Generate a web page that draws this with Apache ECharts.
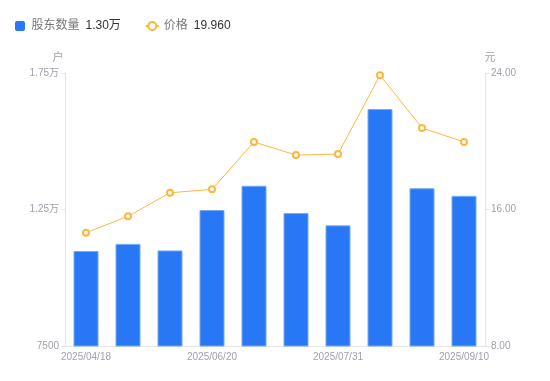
<!DOCTYPE html>
<html>
<head>
<meta charset="utf-8">
<script src="https://cdn.jsdelivr.net/npm/echarts@6/dist/echarts.min.js"></script>
<style>html,body{margin:0;padding:0;background:#fff}#c{width:550px;height:381px}</style>
</head>
<body>
<div id="c"></div>
<script>
const categories = ['2025/04/18','2025/04/30','2025/05/20','2025/06/20','2025/06/30','2025/07/10','2025/07/31','2025/08/10','2025/08/31','2025/09/10'];
const holders = [10980, 11240, 11000, 12480, 13370, 12370, 11920, 16180, 13280, 13000];
const prices = [14.64, 15.60, 16.98, 17.18, 19.96, 19.19, 19.25, 23.87, 20.78, 19.96];
const leftTicks = [7500, 12500, 17500];
const rightTicks = [8, 16, 24];

const fontFamily = '"Liberation Sans", Arial, "Noto Sans CJK SC", sans-serif';
function fmtWan(v){ return v >= 10000 ? (v/10000).toFixed(2) + '万' : String(v); }
const legendValues = {
  '股东数量': fmtWan(holders[holders.length-1]),
  '价格': prices[prices.length-1].toFixed(3)
};
const chart = echarts.init(document.getElementById('c'));
chart.setOption({
  animation: false,
  textStyle: { fontFamily },
  legend: {
    left: 10, top: 15, itemWidth: 13, itemHeight: 10, itemGap: 24,
    data: [
      { name: '股东数量', icon: 'path://M2,0h6a2,2 0 0 1 2,2v6a2,2 0 0 1 -2,2h-6a2,2 0 0 1 -2,-2v-6a2,2 0 0 1 2,-2z', itemStyle: { borderWidth: 0, color: '#2878f5' } },
      { name: '价格' }
    ],
    formatter: name => `{n|${name}}{v|${legendValues[name]}}`,
    textStyle: {
      rich: {
        n: { fontSize: 12, color: '#777', fontFamily },
        v: { fontSize: 12, color: '#333', fontFamily, padding: [0, 0, 0, 6] }
      }
    }
  },
  grid: { left: 65, right: 65, top: 73, bottom: 35 },
  xAxis: {
    type: 'category', data: categories,
    axisLine: { lineStyle: { color: '#e3e3e8' } },
    axisTick: { show: false },
    axisLabel: { interval: 2, color: '#a0a0ad', fontSize: 10, margin: 6 }
  },
  yAxis: [
    {
      type: 'value', name: '户', min: 7500, max: 17500,
      nameTextStyle: { color: '#a0a0ad', fontSize: 11, padding: [0, 14, 0, 0] },
      nameGap: 10,
      axisLine: { show: true, lineStyle: { color: '#e3e3e8' } },
      axisTick: { show: true, length: 4, customValues: leftTicks, lineStyle: { color: '#e3e3e8' } },
      splitLine: { show: false },
      axisLabel: { customValues: leftTicks, color: '#a0a0ad', fontSize: 10, margin: 6,
        formatter: v => fmtWan(v) }
    },
    {
      type: 'value', name: '元', min: 8, max: 24, interval: 8,
      nameTextStyle: { color: '#a0a0ad', fontSize: 11, padding: [0, 0, 0, 10] },
      nameGap: 10,
      axisLine: { show: true, lineStyle: { color: '#e3e3e8' } },
      axisTick: { show: true, length: 4, lineStyle: { color: '#e3e3e8' } },
      splitLine: { show: false },
      axisLabel: { color: '#a0a0ad', fontSize: 10, margin: 6,
        formatter: v => rightTicks.includes(v) ? v.toFixed(2) : '' }
    }
  ],
  series: [
    {
      name: '股东数量', type: 'bar', yAxisIndex: 0, data: holders, barWidth: 25,
      itemStyle: { color: '#2878f5', borderColor: '#78a9f7', borderWidth: 1 }
    },
    {
      name: '价格', type: 'line', yAxisIndex: 1, data: prices,
      symbol: 'emptyCircle', symbolSize: 6,
      lineStyle: { color: '#ffb63d', width: 1 },
      itemStyle: { color: '#ffb63d', borderWidth: 2 }
    }
  ]
});
</script>
</body>
</html>
